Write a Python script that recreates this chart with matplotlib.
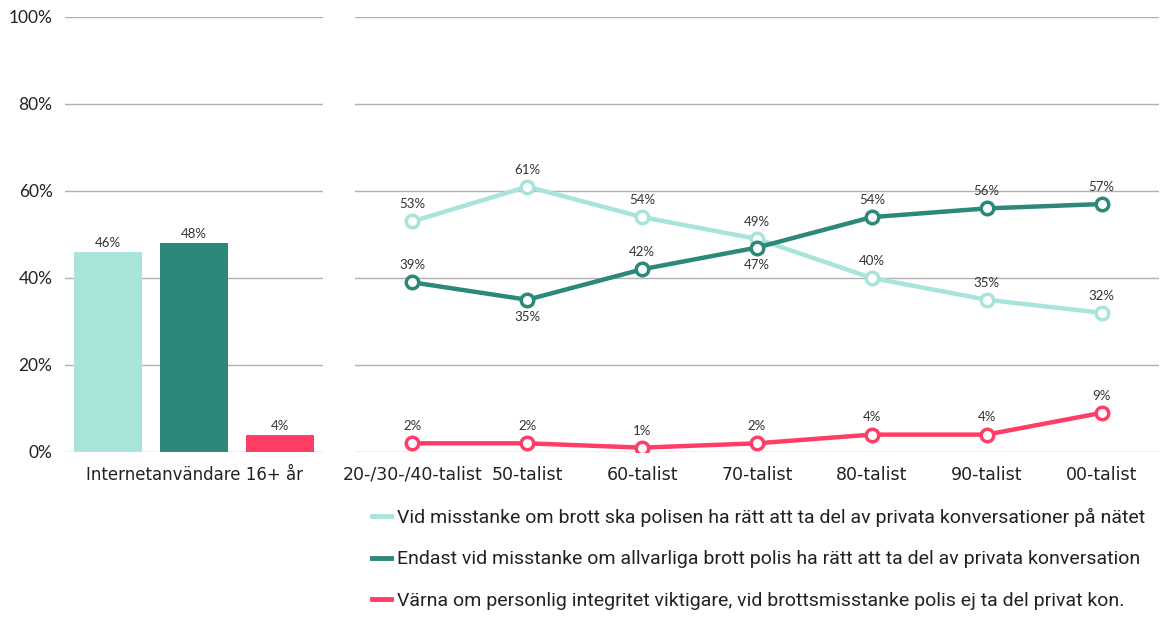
import matplotlib.pyplot as plt
import numpy as np
from matplotlib.lines import Line2D

# data
total_label = "Internetanvändare 16+ år"
total_values = [46, 48, 4]

cohorts = ["20-/30-/40-talist", "50-talist", "60-talist", "70-talist",
           "80-talist", "90-talist", "00-talist"]
polisen_ratt = [53, 61, 54, 49, 40, 35, 32]
endast_allvarliga = [39, 35, 42, 47, 54, 56, 57]
varna_integritet = [2, 2, 1, 2, 4, 4, 9]

series_names = [
    "Vid misstanke om brott ska polisen ha rätt att ta del av privata konversationer på nätet",
    "Endast vid misstanke om allvarliga brott polis ha rätt att ta del av privata konversation",
    "Värna om personlig integritet viktigare, vid brottsmisstanke polis ej ta del privat kon.",
]
colors = ["#a9e4da", "#2c8878", "#ff3d67"]
# label placement for the dark series: +1 above, -1 below
dark_label_side = [1, -1, 1, -1, 1, 1, 1]

W, H = 1161, 617
fig = plt.figure(figsize=(W / 100, H / 100), dpi=100)
plt.rcParams["font.family"] = ["Lato", "DejaVu Sans"]

y0, y1 = 452, 17
ax1 = fig.add_axes([65 / W, 1 - y0 / H, (323 - 65) / W, (y0 - y1) / H])
ax2 = fig.add_axes([355 / W, 1 - y0 / H, (1159 - 355) / W, (y0 - y1) / H])

grid_c = "#b0b0b0"
for ax in (ax1, ax2):
    ax.set_ylim(0, 100)
    ax.set_yticks(np.arange(0, 101, 20))
    ax.yaxis.grid(True, color=grid_c, lw=1)
    ax.set_axisbelow(True)
    for s in ax.spines.values():
        s.set_visible(False)
    ax.tick_params(length=0)

ax1.set_yticklabels([f"{v}%" for v in range(0, 101, 20)], fontsize=12.5, color="#222222")
ax1.tick_params(axis="y", pad=9)
ax2.set_yticklabels([])

# bars
xb = np.arange(len(total_values))
ax1.bar(xb, total_values, width=0.8, color=colors, zorder=2)
for x, v in zip(xb, total_values):
    ax1.annotate(f"{v}%", (x, v), xytext=(0, 2), textcoords="offset points",
                 ha="center", va="bottom", fontsize=9.5, color="#333333")
ax1.set_xlim(-0.5, 2.5)
ax1.set_xticks([1])
ax1.set_xticklabels([total_label], fontsize=12, color="#222222", family="DejaVu Sans")
ax1.tick_params(axis="x", pad=10)

# lines
xl = np.arange(len(cohorts))
all_series = [polisen_ratt, endast_allvarliga, varna_integritet]
for i, (vals, c, name) in enumerate(zip(all_series, colors, series_names)):
    ax2.plot(xl, vals, color=c, lw=3.2, marker="o", ms=9, mfc="white",
             mec=c, mew=2.5, label=name, zorder=3 + (1 if i == 1 else 0))
    for j, v in enumerate(vals):
        side = dark_label_side[j] if i == 1 else 1
        ax2.annotate(f"{v}%", (xl[j], v), xytext=(0, 8 * side),
                     textcoords="offset points", ha="center",
                     va="bottom" if side > 0 else "top",
                     fontsize=9.5, color="#333333")
ax2.set_xlim(-0.5, len(cohorts) - 0.5)
ax2.set_xticks(xl)
ax2.set_xticklabels(cohorts, fontsize=12.5, color="#222222", family="DejaVu Sans")
ax2.tick_params(axis="x", pad=10)

# legend
handles = [Line2D([0], [0], color=c, lw=3.5) for c in colors]
fig.legend(handles, series_names, loc="upper left",
           bbox_to_anchor=(372 / W, 1 - 508 / H), frameon=False,
           borderpad=0, borderaxespad=0,
           handlelength=1.0, handletextpad=0.3, labelspacing=1.2,
           prop={"family": "Roboto", "size": 14}, labelcolor="#222222")

fig.savefig("out.png", dpi=100)
